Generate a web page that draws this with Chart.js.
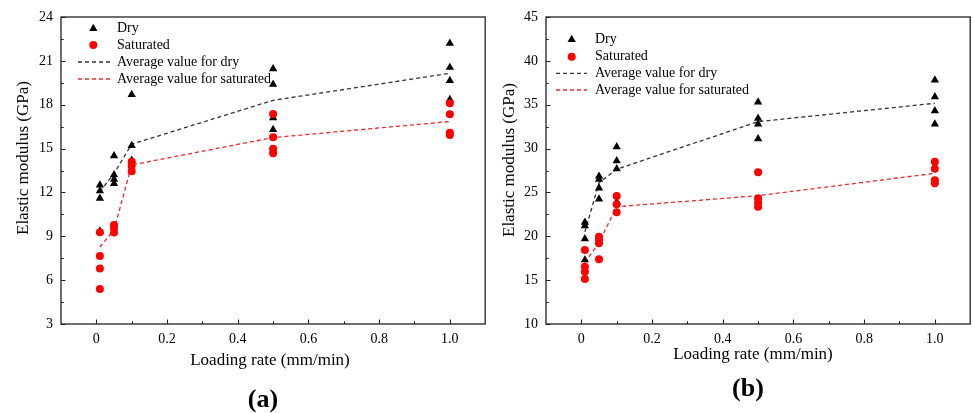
<!DOCTYPE html>
<html>
<head>
<meta charset="utf-8">
<script src="https://cdn.jsdelivr.net/npm/chart.js@4.4.1/dist/chart.umd.min.js"></script>
<style>
  body { margin: 0; background: #fff; width: 975px; height: 413px; overflow: hidden; position: relative;
         font-family: "Liberation Serif", "Times New Roman", serif; color: #000; }
  .box { position: absolute; top: 0; height: 413px; }
  .lbl { position: absolute; white-space: nowrap; transform: translate(-50%, -50%); font-size: 17px; }
  .ytitle { transform: translate(-50%, -50%) rotate(-90deg); }
  .cap { font-size: 26px; font-weight: bold; }
</style>
</head>
<body>
<div class="box" style="left:0;width:490px"><canvas id="chart-a"></canvas></div>
<div class="box" style="left:490px;width:485px"><canvas id="chart-b"></canvas></div>

<div class="lbl ytitle" style="left:23px;top:158px">Elastic modulus (GPa)</div>
<div class="lbl ytitle" style="left:509px;top:160px">Elastic modulus (GPa)</div>
<div class="lbl" style="left:270px;top:360px">Loading rate (mm/min)</div>
<div class="lbl" style="left:753px;top:354px">Loading rate (mm/min)</div>
<div class="lbl cap" style="left:263px;top:399px">(a)</div>
<div class="lbl cap" style="left:748px;top:388px">(b)</div>

<script>
// loading rates (mm/min) shared by both panels
const rates = [0.01, 0.05, 0.1, 0.5, 1.0];
const xTicks = [0, 0.2, 0.4, 0.6, 0.8, 1.0];
const xTickLabels = ["0", "0.2", "0.4", "0.6", "0.8", "1.0"];
const xMinor = [0.1, 0.3, 0.5, 0.7, 0.9];

// panel (a) - one inner array per loading rate
const yTicksA = [3, 6, 9, 12, 15, 18, 21, 24];
const yMinorA = [4.5, 7.5, 10.5, 13.5, 16.5, 19.5, 22.5];
const dryA = [
  [12.5, 12.1, 11.6, 9.35],
  [14.5, 13.2, 12.9, 12.6],
  [18.7, 15.2, 14.2],
  [20.45, 19.4, 17.1, 16.3],
  [22.2, 20.55, 19.65, 18.35]
];
const satA = [
  [9.27, 7.66, 6.8, 5.4],
  [9.78, 9.56, 9.26],
  [14.1, 13.8, 13.45],
  [17.37, 15.78, 14.98, 14.68],
  [18.1, 17.35, 16.09, 15.93]
];
const dryAvgA = [12.05, 13.3, 15.3, 18.3, 20.15];
const satAvgA = [8.26, 9.44, 13.88, 15.75, 16.85];

// panel (b)
const yTicksB = [10, 15, 20, 25, 30, 35, 40, 45];
const yMinorB = [12.5, 17.5, 22.5, 27.5, 32.5, 37.5, 42.5];
const dryB = [
  [21.6, 21.2, 19.7, 17.3],
  [26.85, 26.5, 25.5, 24.25],
  [30.2, 28.6, 27.7, 23.9],
  [35.3, 33.45, 32.8, 31.1],
  [37.8, 35.9, 34.3, 32.8]
];
const satB = [
  [18.44, 16.53, 15.96, 15.13],
  [19.95, 19.6, 19.2, 17.37],
  [24.6, 23.65, 22.75],
  [27.3, 24.33, 23.83, 23.37],
  [28.5, 27.7, 26.4, 26.05]
];
const dryAvgB = [20.5, 26.1, 27.65, 33.07, 35.16];
const satAvgB = [17.0, 19.3, 23.37, 24.63, 27.18];

const legendLabels = ["Dry", "Saturated", "Average value for dry", "Average value for saturated"];

const serif = '"Liberation Serif", "Times New Roman", serif';
const RED = "#ff0000";

function toPoints(groups) {
  return groups.flatMap((vals, i) => vals.map(v => ({ x: rates[i], y: v })));
}
function avgPoints(avgs) {
  return avgs.map((v, i) => ({ x: rates[i], y: v }));
}

// box round the plot plus inward tick marks (major and minor)
const framePlugin = {
  id: "frame",
  afterDraw(chart, args, opts) {
    const { ctx, chartArea: a, scales: { x, y } } = chart;
    ctx.save();
    ctx.strokeStyle = "#222";
    ctx.lineWidth = 1.3;
    ctx.strokeRect(a.left, a.top, a.right - a.left, a.bottom - a.top);
    ctx.lineWidth = 1.1;
    ctx.beginPath();
    x.ticks.forEach(t => {
      const px = Math.round(x.getPixelForValue(t.value)) + 0.5;
      ctx.moveTo(px, a.bottom); ctx.lineTo(px, a.bottom - 4.5);
    });
    opts.xMinor.forEach(v => {
      const px = Math.round(x.getPixelForValue(v)) + 0.5;
      ctx.moveTo(px, a.bottom); ctx.lineTo(px, a.bottom - 2.7);
    });
    y.ticks.forEach(t => {
      const py = Math.round(y.getPixelForValue(t.value)) + 0.5;
      ctx.moveTo(a.left, py); ctx.lineTo(a.left + 4.5, py);
    });
    opts.yMinor.forEach(v => {
      const py = Math.round(y.getPixelForValue(v)) + 0.5;
      ctx.moveTo(a.left, py); ctx.lineTo(a.left + 2.7, py);
    });
    ctx.stroke();
    ctx.restore();
  }
};

// legend drawn inside the plot, top left
const innerLegend = {
  id: "innerLegend",
  afterDraw(chart, args, opts) {
    const ctx = chart.ctx;
    ctx.save();
    ctx.font = "14px " + serif;
    ctx.textBaseline = "middle";
    ctx.fillStyle = "#000";
    chart.data.datasets.forEach((ds, i) => {
      const ry = opts.rows[i];
      if (ds.showLine) {
        ctx.save();
        ctx.strokeStyle = ds.borderColor;
        ctx.lineWidth = ds.borderWidth;
        ctx.setLineDash(ds.borderDash);
        ctx.beginPath();
        ctx.moveTo(opts.lineX0, ry); ctx.lineTo(opts.lineX1, ry);
        ctx.stroke();
        ctx.restore();
      } else {
        const r = ds.pointRadius;
        ctx.save();
        ctx.fillStyle = ds.backgroundColor;
        ctx.beginPath();
        if (ds.pointStyle === "triangle") {
          for (let k = 0; k < 3; k++) {
            const ang = k * 2 * Math.PI / 3;
            const px = opts.markX + Math.sin(ang) * r, py = ry - Math.cos(ang) * r;
            if (k === 0) ctx.moveTo(px, py); else ctx.lineTo(px, py);
          }
          ctx.closePath();
        } else {
          ctx.arc(opts.markX, ry, r, 0, Math.PI * 2);
        }
        ctx.fill();
        ctx.restore();
      }
      ctx.fillText(ds.label, opts.textX, ry);
    });
    ctx.restore();
  }
};

function makeChart(id, p) {
  return new Chart(document.getElementById(id), {
    type: "scatter",
    data: {
      datasets: [
        { label: legendLabels[0], data: toPoints(p.dry), pointStyle: "triangle", pointRadius: 4.8,
          backgroundColor: "#000", borderWidth: 0, order: 1 },
        { label: legendLabels[1], data: toPoints(p.sat), pointStyle: "circle", pointRadius: 4,
          backgroundColor: RED, borderWidth: 0, order: 0 },
        { label: legendLabels[2], data: avgPoints(p.dryAvg), showLine: true, borderColor: "#333",
          borderWidth: 1.3, borderDash: [4, 3], pointRadius: 0, order: 2 },
        { label: legendLabels[3], data: avgPoints(p.satAvg), showLine: true, borderColor: "#f02828",
          borderWidth: 1.3, borderDash: [4, 3], pointRadius: 0, order: 3 }
      ]
    },
    options: {
      responsive: true,
      maintainAspectRatio: false,
      animation: false,
      layout: { padding: { top: 17, right: p.padRight, left: 0, bottom: 0 } },
      plugins: {
        legend: { display: false },
        tooltip: { enabled: false },
        frame: { xMinor: xMinor, yMinor: p.yMinor },
        innerLegend: p.legend
      },
      scales: {
        x: {
          type: "linear", min: -0.1, max: 1.1,
          afterBuildTicks: s => { s.ticks = xTicks.map(v => ({ value: v })); },
          afterFit: s => { s.height = 89; },
          grid: { display: false, drawTicks: false },
          border: { display: false },
          ticks: { callback: (v, i) => xTickLabels[i], color: "#000", padding: 7,
                   maxRotation: 0, autoSkip: false, font: { family: serif, size: 14 } }
        },
        y: {
          type: "linear", min: p.yTicks[0], max: p.yTicks[p.yTicks.length - 1],
          afterBuildTicks: s => { s.ticks = p.yTicks.map(v => ({ value: v })); },
          afterFit: s => { s.width = p.yWidth; },
          grid: { display: false, drawTicks: false },
          border: { display: false },
          ticks: { color: "#000", padding: 8, autoSkip: false, font: { family: serif, size: 14 } }
        }
      }
    },
    plugins: [framePlugin, innerLegend]
  });
}

makeChart("chart-a", {
  dry: dryA, sat: satA, dryAvg: dryAvgA, satAvg: satAvgA,
  yTicks: yTicksA, yMinor: yMinorA, yWidth: 61, padRight: 2,
  legend: { markX: 93.3, textX: 117, lineX0: 78, lineX1: 110, rows: [28.5, 45, 62, 79] }
});
makeChart("chart-b", {
  dry: dryB, sat: satB, dryAvg: dryAvgB, satAvg: satAvgB,
  yTicks: yTicksB, yMinor: yMinorB, yWidth: 56, padRight: 1,
  legend: { markX: 81.7, textX: 105, lineX0: 66, lineX1: 97, rows: [39.5, 56.7, 73.3, 90] }
});
</script>
</body>
</html>
